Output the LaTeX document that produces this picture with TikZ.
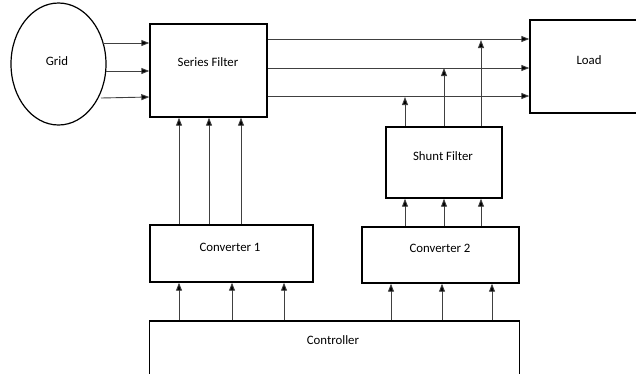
\documentclass[tikz,border=0pt]{standalone}
\usepackage{fontspec}
\setmainfont{Carlito}
\usetikzlibrary{arrows.meta,shapes.geometric}
\begin{document}
\begin{tikzpicture}[x=1pt,y=-1pt,
  blk/.style={draw=black,line width=1.4pt,rectangle,inner sep=0pt},
  arr/.style={draw=black!75,line width=0.9pt,-{Triangle[length=8pt,width=6pt,fill=black]}},
  lbl/.style={font=\fontsize{12.8}{15}\selectfont,inner sep=0pt}]
\useasboundingbox (0,0) rectangle (636,373);
% blocks
\node[draw=black,line width=1.2pt,ellipse,minimum width=95pt,minimum height=122pt,inner sep=0pt] (grid) at (58.5,64) {};
\node[lbl] at (57,61) {Grid};
\node[blk,minimum width=117pt,minimum height=93pt] (sf) at (208.5,70.5) {};
\node[lbl] at (208,62) {Series Filter};
\node[blk,minimum width=110pt,minimum height=93pt] (load) at (585,66.5) {};
\node[lbl] at (589,60) {Load};
\node[blk,minimum width=116pt,minimum height=71pt] (shunt) at (444,162.5) {};
\node[lbl] at (443,156) {Shunt Filter};
\node[blk,minimum width=163pt,minimum height=57pt] (conv1) at (231.5,253.5) {};
\node[lbl] at (230,247) {Converter 1};
\node[blk,minimum width=157pt,minimum height=56pt] (conv2) at (440.5,255) {};
\node[lbl] at (440,248) {Converter 2};
\node[blk,minimum width=370pt,minimum height=70pt] (ctrl) at (334.5,356) {};
\node[lbl] at (333,340) {Controller};
% grid to series filter
\coordinate (g1) at (103,43);
\coordinate (g2) at (106,71);
\coordinate (g3) at (101,98);
\draw[arr] (g1) -- (sf.west |- g1);
\draw[arr] (g2) -- (sf.west |- g2);
\draw[arr] (g3) -- (sf.west |- 0,97);
% series filter to load
\foreach \yy in {39,68,96}
  \draw[arr] (sf.east |- 0,\yy) -- (load.west |- 0,\yy);
% shunt filter outputs
\draw[arr] (405,0 |- shunt.north) -- (405,97);
\draw[arr] (444,0 |- shunt.north) -- (444,68);
\draw[arr] (481,0 |- shunt.north) -- (481,40);
% converter 2 to shunt filter
\foreach \xx in {405,444,481}
  \draw[arr] (\xx,0 |- conv2.north) -- (\xx,0 |- shunt.south);
% converter 1 to series filter
\foreach \xx in {179,209,241}
  \draw[arr] (\xx,0 |- conv1.north) -- (\xx,0 |- sf.south);
% controller to converters
\foreach \xx in {179,232,284}
  \draw[arr] (\xx,0 |- ctrl.north) -- (\xx,0 |- conv1.south);
\foreach \xx in {391,442,492}
  \draw[arr] (\xx,0 |- ctrl.north) -- (\xx,0 |- conv2.south);
\end{tikzpicture}
\end{document}
